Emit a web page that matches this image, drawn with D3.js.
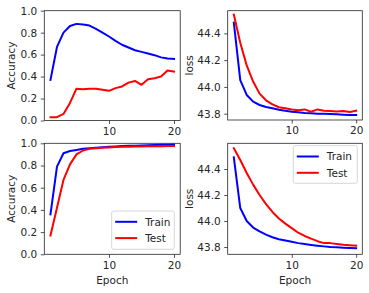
<!DOCTYPE html>
<html>
<head>
<meta charset="utf-8">
<script src="https://cdn.jsdelivr.net/npm/d3@7"></script>
<style>
  body { margin: 0; background: #fff; }
  svg { display: block; font-family: "DejaVu Sans", sans-serif; }
</style>
</head>
<body>
<div id="chart"></div>
<script>
// epochs 1..20
const epochs = d3.range(1, 21);

// run 1 (top row)
const accTrain1 = [0.37, 0.67, 0.80, 0.86, 0.88, 0.875, 0.865, 0.835, 0.80, 0.765, 0.725, 0.69, 0.665, 0.64, 0.625, 0.61, 0.595, 0.575, 0.565, 0.56];
const accTest1  = [0.03, 0.03, 0.06, 0.16, 0.29, 0.285, 0.29, 0.29, 0.28, 0.27, 0.295, 0.31, 0.345, 0.36, 0.325, 0.375, 0.385, 0.40, 0.455, 0.445];
const lossTrain1 = [44.48, 44.05, 43.94, 43.89, 43.865, 43.85, 43.84, 43.83, 43.822, 43.815, 43.81, 43.806, 43.804, 43.80, 43.80, 43.797, 43.795, 43.792, 43.79, 43.79];
const lossTest1  = [44.54, 44.33, 44.16, 44.04, 43.95, 43.90, 43.87, 43.848, 43.84, 43.832, 43.826, 43.832, 43.815, 43.832, 43.822, 43.82, 43.817, 43.82, 43.812, 43.822];

// run 2 (bottom row)
const accTrain2 = [0.36, 0.79, 0.91, 0.93, 0.94, 0.95, 0.955, 0.96, 0.965, 0.97, 0.972, 0.975, 0.977, 0.979, 0.98, 0.982, 0.984, 0.986, 0.988, 0.99];
const accTest2  = [0.17, 0.42, 0.67, 0.81, 0.90, 0.935, 0.95, 0.955, 0.96, 0.963, 0.966, 0.968, 0.97, 0.971, 0.972, 0.973, 0.974, 0.974, 0.975, 0.975];
const lossTrain2 = [44.49, 44.10, 44.00, 43.95, 43.92, 43.895, 43.875, 43.86, 43.85, 43.84, 43.83, 43.823, 43.816, 43.81, 43.805, 43.80, 43.798, 43.795, 43.792, 43.79];
const lossTest2  = [44.56, 44.47, 44.37, 44.28, 44.20, 44.13, 44.07, 44.02, 43.98, 43.945, 43.91, 43.885, 43.865, 43.845, 43.83, 43.83, 43.824, 43.818, 43.814, 43.81];

const xTicks = [10, 20];
const accTicks = [0, 0.2, 0.4, 0.6, 0.8, 1.0];
const lossTicks = [43.8, 44.0, 44.2, 44.4];
const seriesNames = ["Train", "Test"];
const colors = ["#0000ff", "#ff0000"];

const W = 369, H = 293;
const svg = d3.select("#chart").append("svg").attr("width", W).attr("height", H);

const panels = [
  {x0: 44.3, x1: 180.2, y0: 10.7, y1: 120.5, ydom: [0, 1], yt: accTicks, ylab: "Accuracy", labX: 15,
   series: [accTrain1, accTest1]},
  {x0: 227.7, x1: 362.3, y0: 10.7, y1: 120.0, ydom: [43.753, 44.569], yt: lossTicks, ylab: "loss", labX: 193,
   series: [lossTrain1, lossTest1]},
  {x0: 44.3, x1: 180.2, y0: 143.3, y1: 254.3, ydom: [0, 1], yt: accTicks, ylab: "Accuracy", labX: 15,
   series: [accTrain2, accTest2], xlab: true,
   legend: {x: 111.7, y: 211, w: 62.6, h: 38.3}},
  {x0: 227.7, x1: 362.3, y0: 143.3, y1: 254.3, ydom: [43.744, 44.598], yt: lossTicks, ylab: "loss", labX: 193,
   series: [lossTrain2, lossTest2], xlab: true,
   legend: {x: 293.3, y: 145.7, w: 64, h: 37.6}}
];

const fmt = d3.format(".1f");

panels.forEach(p => {
  const x = d3.scaleLinear().domain([0.05, 20.95]).range([p.x0, p.x1]);
  const y = d3.scaleLinear().domain(p.ydom).range([p.y1, p.y0]);
  const g = svg.append("g");

  const line = d3.line().x((d, i) => x(epochs[i])).y(d => y(d));
  p.series.forEach((s, k) => {
    g.append("path").datum(s)
      .attr("d", line)
      .attr("fill", "none")
      .attr("stroke", colors[k])
      .attr("stroke-width", 2)
      .attr("stroke-linejoin", "round")
      .attr("stroke-linecap", "square");
  });

  const xa = g.append("g").attr("transform", `translate(0,${p.y1})`)
    .call(d3.axisBottom(x).tickValues(xTicks).tickSize(3.5).tickPadding(3.5));
  const ya = g.append("g").attr("transform", `translate(${p.x0},0)`)
    .call(d3.axisLeft(y).tickValues(p.yt).tickFormat(fmt).tickSize(3.5).tickPadding(3.5));
  [xa, ya].forEach(a => {
    a.select(".domain").remove();
    a.selectAll("text").attr("font-size", 10.5).attr("fill", "#262626").attr("font-family", "DejaVu Sans");
    a.selectAll("line").attr("stroke", "#262626").attr("stroke-width", 0.8);
  });

  g.append("rect")
    .attr("x", p.x0).attr("y", p.y0)
    .attr("width", p.x1 - p.x0).attr("height", p.y1 - p.y0)
    .attr("fill", "none").attr("stroke", "#262626").attr("stroke-width", 0.8);

  g.append("text")
    .attr("transform", `translate(${p.labX},${(p.y0 + p.y1) / 2}) rotate(-90)`)
    .attr("text-anchor", "middle")
    .attr("font-size", 10.5).attr("fill", "#262626")
    .text(p.ylab);

  if (p.xlab) {
    g.append("text")
      .attr("x", (p.x0 + p.x1) / 2).attr("y", 284)
      .attr("text-anchor", "middle")
      .attr("font-size", 10.5).attr("fill", "#262626")
      .text("Epoch");
  }

  if (p.legend) {
    const L = p.legend;
    g.append("rect")
      .attr("x", L.x).attr("y", L.y).attr("width", L.w).attr("height", L.h)
      .attr("rx", 2).attr("fill", "#fff").attr("fill-opacity", 0.8)
      .attr("stroke", "#cccccc").attr("stroke-width", 0.8);
    seriesNames.forEach((name, k) => {
      const yy = L.y + 10.8 + k * 16.3;
      g.append("line")
        .attr("x1", L.x + 3.5).attr("x2", L.x + 25.5)
        .attr("y1", yy).attr("y2", yy)
        .attr("stroke", colors[k]).attr("stroke-width", 2);
      g.append("text")
        .attr("x", L.x + 33.5).attr("y", yy)
        .attr("dy", "0.36em")
        .attr("font-size", 10.5).attr("fill", "#262626")
        .text(name);
    });
  }
});
</script>
</body>
</html>
